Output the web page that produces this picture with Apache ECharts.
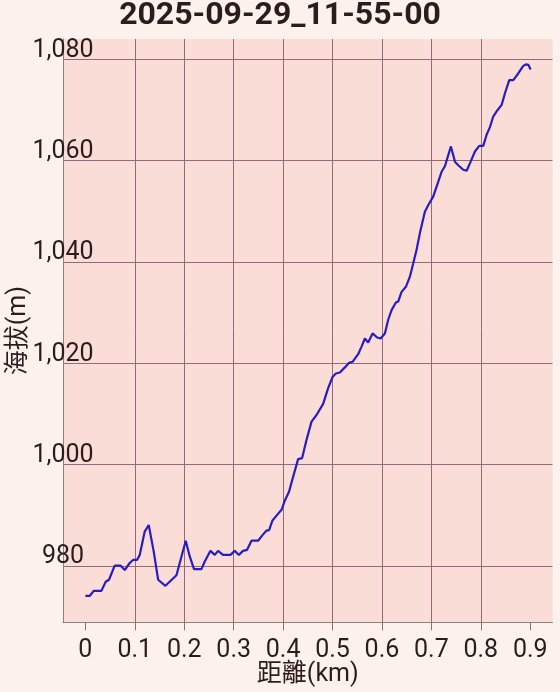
<!DOCTYPE html>
<html><head><meta charset="utf-8">
<script src="https://cdn.jsdelivr.net/npm/echarts@6/dist/echarts.min.js"></script>
<style>html,body{margin:0;padding:0;background:#fdf1ed;} #c{width:560px;height:692px;}</style>
</head><body><div id="c"></div>
<script>
const titleText = '2025-09-29_11-55-00';
const xAxisName = '距離(km)';
const yAxisName = '海拔(m)';
const distanceKm = [0, 0.0087, 0.0168, 0.0324, 0.0411, 0.0478, 0.0593, 0.0709, 0.0796, 0.0897, 0.0964, 0.1045, 0.1099, 0.12, 0.1281, 0.138, 0.1472, 0.1619, 0.1842, 0.203, 0.2111, 0.2198, 0.2348, 0.2415, 0.253, 0.2617, 0.2684, 0.2785, 0.2935, 0.3022, 0.3103, 0.319, 0.3271, 0.336, 0.3494, 0.3583, 0.3664, 0.3717, 0.3785, 0.3879, 0.3968, 0.4034, 0.4121, 0.4202, 0.4304, 0.4385, 0.4474, 0.4575, 0.4676, 0.481, 0.4911, 0.5, 0.5067, 0.5148, 0.5249, 0.5336, 0.5405, 0.5518, 0.5587, 0.5654, 0.5721, 0.581, 0.5903, 0.5972, 0.6059, 0.6126, 0.6194, 0.6281, 0.6328, 0.6397, 0.6484, 0.6565, 0.6632, 0.67, 0.6767, 0.6868, 0.6935, 0.7036, 0.7138, 0.7206, 0.7273, 0.7395, 0.7476, 0.7543, 0.7644, 0.7713, 0.7794, 0.7881, 0.7968, 0.8049, 0.8117, 0.8184, 0.8251, 0.8332, 0.8421, 0.8488, 0.8575, 0.8656, 0.8757, 0.8858, 0.8913, 0.896, 0.9008];
const elevationM = [974.1, 974.1, 975.1, 975.1, 976.9, 977.3, 980.1, 980.1, 979.2, 980.6, 981.2, 981.2, 982.2, 986.8, 988.1, 983.0, 977.3, 976.1, 978.2, 985.0, 981.9, 979.4, 979.4, 980.9, 983.0, 982.2, 983.0, 982.2, 982.2, 983.0, 982.2, 983.0, 983.2, 985.0, 985.0, 986.1, 987.0, 987.1, 989.0, 990.1, 991.1, 992.9, 994.7, 997.6, 1001.1, 1001.3, 1004.9, 1008.5, 1009.8, 1012.0, 1015.1, 1017.3, 1018.0, 1018.2, 1019.2, 1020.1, 1020.3, 1021.8, 1023.3, 1024.9, 1024.1, 1025.9, 1025.1, 1024.9, 1025.9, 1028.6, 1030.5, 1032.0, 1032.2, 1034.1, 1035.1, 1037.1, 1039.7, 1042.4, 1045.7, 1049.9, 1051.2, 1052.9, 1055.8, 1057.8, 1058.9, 1062.8, 1059.8, 1059.1, 1058.2, 1058.0, 1059.8, 1061.8, 1062.9, 1062.9, 1065.1, 1066.6, 1068.7, 1069.9, 1071.0, 1073.3, 1075.9, 1075.9, 1077.2, 1078.7, 1079.0, 1078.9, 1078.0];
const xTicks = [0, 0.1, 0.2, 0.3, 0.4, 0.5, 0.6, 0.7, 0.8, 0.9];
const yTicks = [980, 1000, 1020, 1040, 1060, 1080];

const seriesData = distanceKm.map((d, i) => [d, elevationM[i]]);
const FONT = 'Roboto, "Noto Sans CJK TC", sans-serif';
const gridColor = '#94697b';
const axisColor = '#8c8082';
const textColor = '#2b1d1d';

const chart = echarts.init(document.getElementById('c'), null, {renderer: 'canvas'});
chart.setOption({
  animation: false,
  backgroundColor: '#fdf1ed',
  title: {
    text: titleText, left: 'center', top: 0, padding: 0,
    textStyle: {fontFamily: FONT, fontSize: 32, fontWeight: 'bold', color: textColor, lineHeight: 32}
  },
  grid: {
    left: 63, right: 7.5, top: 39, bottom: 69.7, show: true,
    containLabel: false, outerBoundsMode: 'none',
    backgroundColor: '#f9ddd6', borderWidth: 0
  },
  xAxis: {
    type: 'value', min: -0.0453, max: 0.945, splitNumber: 10,
    name: xAxisName, nameLocation: 'middle', nameGap: 40, nameMoveOverlap: false,
    nameTextStyle: {fontFamily: FONT, fontSize: 25, color: textColor, lineHeight: 25},
    axisLine: {show: true, onZero: false, lineStyle: {color: axisColor, width: 1}},
    axisTick: {show: true, length: 8, customValues: xTicks, lineStyle: {color: gridColor}},
    axisLabel: {customValues: xTicks, margin: 16,
      fontFamily: FONT, fontSize: 25, color: textColor, lineHeight: 25,
      formatter: v => String(v)},
    splitLine: {show: true, showMinLine: false, showMaxLine: false, lineStyle: {color: gridColor, width: 1}}
  },
  yAxis: {
    type: 'value', min: 968.9, max: 1084.0, splitNumber: 6,
    name: yAxisName, nameLocation: 'middle', nameGap: 32, nameMoveOverlap: false,
    nameTextStyle: {fontFamily: FONT, fontSize: 25, color: textColor, lineHeight: 25},
    axisLine: {show: true, onZero: false, lineStyle: {color: axisColor, width: 1}},
    axisTick: {show: false},
    axisLabel: {customValues: yTicks, margin: 0,
      align: 'center', verticalAlign: 'bottom', lineHeight: 18,
      fontFamily: FONT, fontSize: 25, color: textColor,
      formatter: v => echarts.format.addCommas(v)},
    splitLine: {show: true, showMinLine: false, showMaxLine: false, lineStyle: {color: gridColor, width: 1}}
  },
  series: [{
    type: 'line', data: seriesData, showSymbol: false, smooth: false,
    lineStyle: {color: '#2a1cc4', width: 2.2}, itemStyle: {color: '#2a1cc4'}
  }]
});
</script>
</body></html>
